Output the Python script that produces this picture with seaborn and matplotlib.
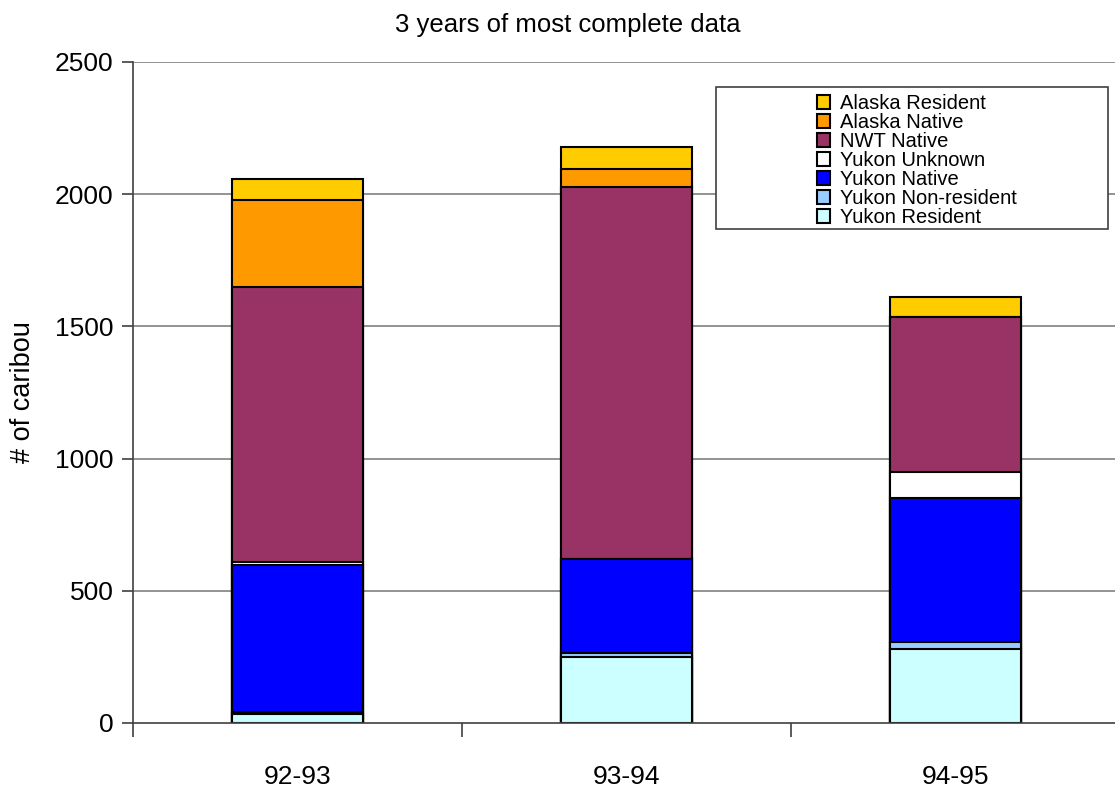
import numpy as np
import pandas as pd
import matplotlib.pyplot as plt
import seaborn as sns
from matplotlib.patches import Rectangle
from matplotlib.ticker import FixedLocator

# ------------------------------------------------------------
# DATA
# ------------------------------------------------------------
seasons = ["92-93", "93-94", "94-95"]

# stacking order, bottom -> top
yukon_resident = [34, 248, 281]
yukon_nonresident = [6, 17, 24]
yukon_native = [558, 355, 547]
yukon_unknown = [11, 0, 97]
nwt_native = [1040, 1406, 587]
alaska_native = [330, 70, 0]
alaska_resident = [80, 84, 76]

groups = ["Yukon Resident", "Yukon Non-resident", "Yukon Native", "Yukon Unknown",
          "NWT Native", "Alaska Native", "Alaska Resident"]
colors = ["#CCFFFF", "#99CCFF", "#0000FF", "#FFFFFF",
          "#993366", "#FF9900", "#FFCC00"]

df = pd.DataFrame({
    "Yukon Resident": yukon_resident,
    "Yukon Non-resident": yukon_nonresident,
    "Yukon Native": yukon_native,
    "Yukon Unknown": yukon_unknown,
    "NWT Native": nwt_native,
    "Alaska Native": alaska_native,
    "Alaska Resident": alaska_resident,
}, index=seasons)
cum = df[groups].cumsum(axis=1)

# ------------------------------------------------------------
# PLOT
# ------------------------------------------------------------
sns.set_theme(style="white")
plt.rcParams["font.family"] = ["Liberation Sans", "DejaVu Sans"]
plt.rcParams["text.color"] = "black"
plt.rcParams["axes.labelcolor"] = "black"
plt.rcParams["xtick.color"] = "black"
plt.rcParams["ytick.color"] = "black"

W, H = 1115, 787
fig = plt.figure(figsize=(W / 100, H / 100), dpi=100)
ax = fig.add_axes([133 / W, (H - 723) / H, (1120 - 133) / W, (723 - 62) / H])

# grid lines behind bars
for yv in [500, 1000, 1500, 2000, 2500]:
    ax.axhline(yv, color="#808080", lw=1.2, zorder=0)

# overplot cumulative totals, tallest first
for g, c in reversed(list(zip(groups, colors))):
    plot_df = pd.DataFrame({"season": seasons, "value": cum[g].values})
    sns.barplot(data=plot_df, x="season", y="value", color=c, width=0.4,
                edgecolor="black", linewidth=1.5, saturation=1,
                label=g, ax=ax, zorder=2)

ax.set_xlim(-0.5, 2.5)
ax.set_ylim(0, 2500)
ax.set_yticks([0, 500, 1000, 1500, 2000, 2500])
ax.tick_params(axis="y", labelsize=19, length=8, width=1.2, color="#404040",
               direction="out", left=True, pad=6)
ax.tick_params(axis="x", which="major", labelsize=19, length=0, pad=30)
ax.xaxis.set_minor_locator(FixedLocator([-0.5, 0.5, 1.5, 2.5]))
ax.tick_params(axis="x", which="minor", length=10, width=1.2, color="#404040",
               direction="out", bottom=True)

for s in ["top", "right"]:
    ax.spines[s].set_visible(False)
ax.spines["left"].set_color("#404040")
ax.spines["bottom"].set_color("#404040")
ax.spines["left"].set_linewidth(1.2)
ax.spines["bottom"].set_linewidth(1.2)

ax.set_xlabel("")
ax.set_ylabel("# of caribou", fontsize=19.5)
ax.yaxis.set_label_coords(-0.098, 0.5)

fig.text(568 / W, 1 - 25 / H, "3 years of most complete data",
         ha="center", va="center", fontsize=18.5)

# legend frame + entries
ax.add_patch(Rectangle((716 / W, 1 - 229 / H), (1108 - 716) / W, (229 - 87) / H,
                       transform=fig.transFigure, facecolor="white",
                       edgecolor="#404040", linewidth=1.2, zorder=5,
                       clip_on=False))
leg = ax.legend(loc="upper left", bbox_to_anchor=(817 / W, 1 - 94 / H),
                bbox_transform=fig.transFigure, frameon=False, fontsize=14.5,
                handlelength=0.65, handleheight=0.65, handletextpad=0.5,
                labelspacing=0.0, borderpad=0, borderaxespad=0)
leg.set_zorder(6)

fig.savefig("out.png", dpi=100)
